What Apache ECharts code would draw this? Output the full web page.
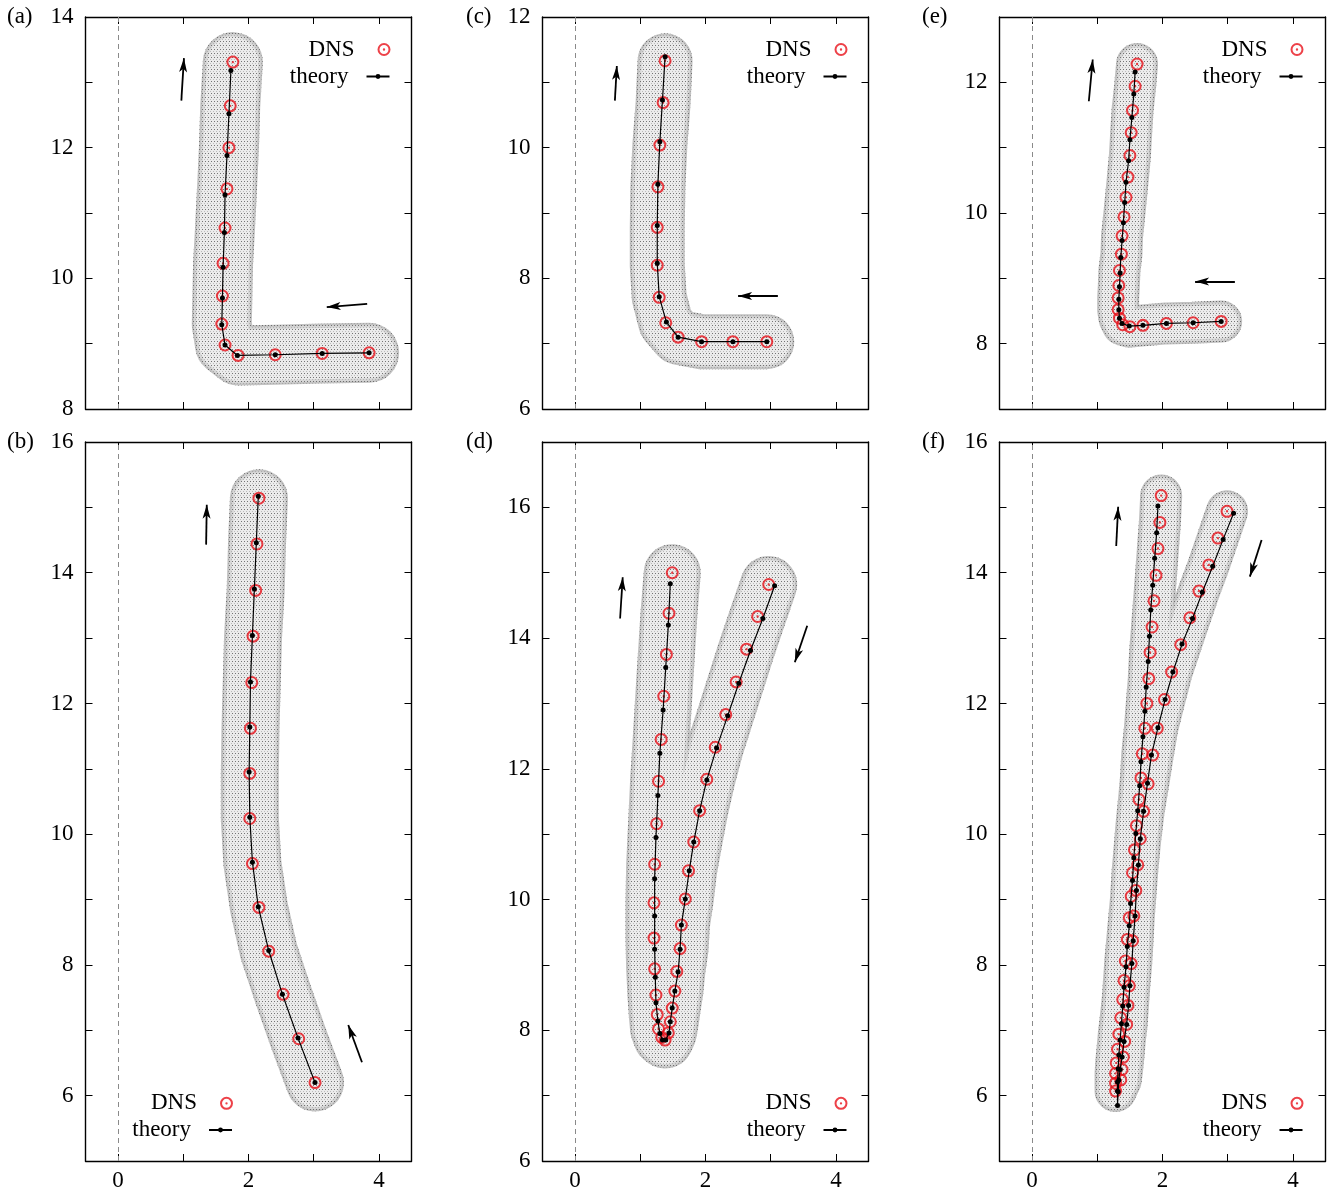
<!DOCTYPE html>
<html><head><meta charset="utf-8">
<script src="https://cdn.jsdelivr.net/npm/echarts@6/dist/echarts.min.js"></script>
<style>html,body{margin:0;padding:0;background:#fff}#c{width:1337px;height:1197px}</style>
</head><body><div id="c"></div>
<script>
// ---------------- data ----------------
const panelLetters = ['(a)','(b)','(c)','(d)','(e)','(f)'];
const xTicks = [0,1,2,3,4];
const xLabels = [0,2,4];
const yTicksA = [8,9,10,11,12,13,14], yLabelsA = [8,10,12,14];
const yTicksB = [5,6,7,8,9,10,11,12,13,14,15,16], yLabelsB = [6,8,10,12,14,16];
const yTicksC = [6,7,8,9,10,11,12], yLabelsC = [6,8,10,12];
const yTicksD = [6,7,8,9,10,11,12,13,14,15,16,17], yLabelsD = [6,8,10,12,14,16];
const yTicksE = [7,8,9,10,11,12,13], yLabelsE = [8,10,12];
const yTicksF = [5,6,7,8,9,10,11,12,13,14,15,16], yLabelsF = [6,8,10,12,14,16];

const dnsA = [[3.85,8.86],[3.13,8.85],[2.41,8.83],[1.84,8.82],[1.64,8.98],[1.59,9.30],[1.60,9.73],[1.61,10.23],[1.64,10.77],[1.67,11.37],[1.70,12.00],[1.72,12.64],[1.76,13.31]];
const theoryA = [[3.85,8.86],[3.13,8.85],[2.41,8.83],[1.83,8.82],[1.64,8.98],[1.59,9.29],[1.60,9.70],[1.61,10.17],[1.63,10.70],[1.64,11.28],[1.67,11.88],[1.70,12.52],[1.73,13.18]];
const arrowsA = [[[0.97,12.72],[1.01,13.37]],[[3.82,9.61],[3.20,9.56]]];

const dnsB = [[3.02,6.20],[2.77,6.87],[2.53,7.55],[2.31,8.21],[2.16,8.88],[2.06,9.55],[2.02,10.24],[2.02,10.93],[2.03,11.62],[2.05,12.32],[2.07,13.03],[2.11,13.73],[2.13,14.44],[2.16,15.14]];
const theoryB = [[3.02,6.20],[2.76,6.88],[2.52,7.55],[2.31,8.22],[2.15,8.89],[2.06,9.57],[2.02,10.26],[2.01,10.95],[2.02,11.64],[2.03,12.33],[2.06,13.04],[2.09,13.75],[2.12,14.46],[2.15,15.17]];
const arrowsB = [[[1.35,14.43],[1.36,15.04]],[[3.74,6.51],[3.53,7.08]]];

const dnsC = [[2.94,7.03],[2.42,7.03],[1.94,7.03],[1.58,7.10],[1.39,7.32],[1.29,7.71],[1.26,8.20],[1.26,8.78],[1.27,9.40],[1.30,10.04],[1.35,10.69],[1.38,11.33]];
const theoryC = [[2.94,7.03],[2.42,7.03],[1.94,7.03],[1.58,7.10],[1.40,7.33],[1.29,7.72],[1.26,8.23],[1.26,8.81],[1.27,9.44],[1.30,10.09],[1.34,10.73],[1.38,11.39]];
const arrowsC = [[[0.61,10.72],[0.64,11.25]],[[3.11,7.73],[2.50,7.73]]];

const dnsD = [[2.97,14.82],[2.80,14.33],[2.63,13.83],[2.47,13.33],[2.31,12.83],[2.15,12.33],[2.02,11.84],[1.91,11.36],[1.82,10.88],[1.74,10.44],[1.69,10.01],[1.63,9.61],[1.61,9.25],[1.56,8.90],[1.53,8.60],[1.49,8.34],[1.46,8.13],[1.43,7.96],[1.38,7.85],
  [1.33,7.89],[1.28,8.02],[1.26,8.24],[1.24,8.54],[1.22,8.94],[1.21,9.41],[1.21,9.95],[1.22,10.54],[1.25,11.16],[1.28,11.81],[1.32,12.45],[1.36,13.11],[1.40,13.75],[1.44,14.38],[1.49,15.00]];
const theoryD = [[3.06,14.80],[2.88,14.30],[2.69,13.81],[2.51,13.31],[2.34,12.81],[2.17,12.32],[2.02,11.83],[1.91,11.36],[1.82,10.88],[1.75,10.44],[1.69,10.01],[1.63,9.61],[1.61,9.24],[1.58,8.89],[1.53,8.60],[1.49,8.34],[1.46,8.13],[1.44,7.96],[1.39,7.85],
  [1.34,7.85],[1.30,7.95],[1.27,8.14],[1.24,8.42],[1.23,8.81],[1.22,9.24],[1.22,9.75],[1.22,10.32],[1.24,10.95],[1.27,11.59],[1.30,12.24],[1.35,12.90],[1.39,13.55],[1.43,14.20],[1.46,14.83]];
const arrowsD = [[[0.69,14.30],[0.73,14.93]],[[3.56,14.19],[3.37,13.63]]];

const dnsE = [[2.90,8.34],[2.47,8.32],[2.06,8.31],[1.70,8.28],[1.50,8.26],[1.39,8.29],[1.34,8.39],[1.32,8.52],[1.32,8.70],[1.33,8.89],[1.34,9.12],[1.37,9.37],[1.38,9.65],[1.41,9.94],[1.44,10.24],[1.47,10.55],[1.50,10.88],[1.52,11.23],[1.54,11.57],[1.58,11.94],[1.61,12.28]];
const theoryE = [[2.90,8.34],[2.47,8.32],[2.06,8.31],[1.70,8.28],[1.49,8.27],[1.38,8.31],[1.34,8.39],[1.33,8.52],[1.33,8.68],[1.34,8.87],[1.35,9.08],[1.36,9.32],[1.38,9.58],[1.40,9.85],[1.42,10.16],[1.44,10.47],[1.48,10.80],[1.50,11.12],[1.53,11.46],[1.56,11.82],[1.58,12.16]];
const arrowsE = [[[0.87,11.71],[0.93,12.35]],[[3.11,8.95],[2.50,8.95]]];

const dnsF = [[2.99,14.94],[2.85,14.53],[2.71,14.12],[2.56,13.72],[2.42,13.31],[2.28,12.90],[2.14,12.48],[2.03,12.06],[1.92,11.62],[1.85,11.21],[1.78,10.77],[1.71,10.35],[1.66,9.93],[1.62,9.53],[1.59,9.14],[1.56,8.75],[1.54,8.37],[1.52,8.02],[1.49,7.68],[1.47,7.38],[1.45,7.09],[1.42,6.83],[1.40,6.59],[1.38,6.40],[1.36,6.24],
  [1.28,6.07],[1.28,6.19],[1.28,6.34],[1.29,6.50],[1.31,6.71],[1.33,6.94],[1.36,7.19],[1.39,7.47],[1.41,7.76],[1.43,8.06],[1.46,8.39],[1.49,8.72],[1.52,9.05],[1.54,9.41],[1.57,9.76],[1.60,10.13],[1.64,10.53],[1.67,10.86],[1.69,11.23],[1.73,11.62],[1.76,12.00],[1.79,12.38],[1.81,12.78],[1.84,13.17],[1.87,13.57],[1.90,13.96],[1.93,14.37],[1.96,14.77],[1.98,15.18]];
const theoryF = [[3.09,14.91],[2.93,14.51],[2.77,14.10],[2.61,13.70],[2.46,13.30],[2.30,12.91],[2.16,12.48],[2.04,12.06],[1.93,11.63],[1.83,11.21],[1.77,10.78],[1.71,10.35],[1.66,9.93],[1.63,9.53],[1.60,9.14],[1.58,8.75],[1.55,8.37],[1.53,8.02],[1.50,7.68],[1.48,7.38],[1.45,7.09],[1.41,6.83],[1.38,6.59],[1.35,6.40],[1.33,6.24],[1.32,6.06],[1.31,5.85],
  [1.31,6.07],[1.31,6.21],[1.32,6.41],[1.33,6.62],[1.35,6.85],[1.37,7.10],[1.39,7.37],[1.41,7.66],[1.44,7.97],[1.46,8.28],[1.49,8.60],[1.51,8.94],[1.54,9.29],[1.56,9.64],[1.59,10.01],[1.62,10.36],[1.65,10.74],[1.67,11.11],[1.70,11.49],[1.73,11.88],[1.75,12.25],[1.78,12.64],[1.80,13.03],[1.82,13.43],[1.85,13.81],[1.88,14.22],[1.91,14.61],[1.93,15.02]];
const arrowsF = [[[1.29,14.41],[1.32,15.01]],[[3.52,14.50],[3.34,13.94]]];

// ---------------- styles / layout ----------------
const FONT = '"Liberation Serif","Times New Roman",serif';
const RED = '#e8121a';
const DNS_SYMBOL = 'path://M10,0A10,10 0 1,1 10,20A10,10 0 1,1 10,0ZM10,3.1A6.9,6.9 0 1,0 10,16.9A6.9,6.9 0 1,0 10,3.1ZM10,8.2A1.8,1.8 0 1,1 10,11.8A1.8,1.8 0 1,1 10,8.2Z';

const panels = [
  {dns:dnsA, th:theoryA, arr:arrowsA, yMin:8, yMax:14, yt:yTicksA, yl:yLabelsA, left:85.5, top:17, h:392, bottomRow:false, tube:60, legRight:946.5, legY:[49.5,76.5], lx:7, ly:17},
  {dns:dnsB, th:theoryB, arr:arrowsB, yMin:5, yMax:16, yt:yTicksB, yl:yLabelsB, left:85.5, top:442, h:719, bottomRow:true, tube:58, legRight:1104, legY:[1103.3,1130], lx:7, ly:442},
  {dns:dnsC, th:theoryC, arr:arrowsC, yMin:6, yMax:12, yt:yTicksC, yl:yLabelsC, left:542.5, top:17, h:392, bottomRow:false, tube:55, legRight:489.5, legY:[49.5,76.5], lx:466, ly:17},
  {dns:dnsD, th:theoryD, arr:arrowsD, yMin:6, yMax:17, yt:yTicksD, yl:yLabelsD, left:542.5, top:442, h:719, bottomRow:true, tube:57, legRight:489.5, legY:[1103.3,1130], lx:466, ly:442},
  {dns:dnsE, th:theoryE, arr:arrowsE, yMin:7, yMax:13, yt:yTicksE, yl:yLabelsE, left:999.5, top:17, h:392, bottomRow:false, tube:42, legRight:33.5, legY:[49.5,76.5], lx:922, ly:17},
  {dns:dnsF, th:theoryF, arr:arrowsF, yMin:5, yMax:16, yt:yTicksF, yl:yLabelsF, left:999.5, top:442, h:719, bottomRow:true, tube:42, legRight:33.5, legY:[1103.3,1130], lx:922, ly:442}
];

function makeDots() {
  const c = document.createElement('canvas');
  c.width = 3; c.height = 4;
  const g = c.getContext('2d');
  g.fillStyle = 'rgba(95,95,95,0.85)';
  g.fillRect(1, 1, 1, 1);
  g.fillStyle = 'rgba(140,140,140,0.5)';
  g.fillRect(0, 3, 1, 1);
  return c;
}
const dotPattern = { image: makeDots(), repeat: 'repeat' };

const grid = [], xAxis = [], yAxis = [], series = [], legend = [], graphic = [];
const axisLineStyle = { color: '#000', width: 1.4 };
const tickStyle = { color: '#000', width: 1 };
const labelStyle = { color: '#000', fontSize: 23, fontFamily: FONT };

panels.forEach((p, i) => {
  grid.push({ left: p.left, top: p.top, width: 326, height: p.h, containLabel: false });
  xAxis[i] = { type: 'value', gridIndex: i, position: 'bottom', min: -0.5, max: 4.5,
    axisLine: { show: true, onZero: false, lineStyle: axisLineStyle },
    axisTick: { show: true, inside: true, length: 7, customValues: xTicks, lineStyle: tickStyle },
    axisLabel: Object.assign({ show: p.bottomRow, customValues: xLabels, margin: 8 }, labelStyle),
    splitLine: { show: false } };
  xAxis[6 + i] = { type: 'value', gridIndex: i, position: 'top', min: -0.5, max: 4.5,
    axisLine: { show: true, onZero: false, lineStyle: axisLineStyle },
    axisTick: { show: true, inside: true, length: 7, customValues: xTicks, lineStyle: tickStyle },
    axisLabel: { show: false }, splitLine: { show: false } };
  yAxis[i] = { type: 'value', gridIndex: i, position: 'left', min: p.yMin, max: p.yMax,
    axisLine: { show: true, onZero: false, lineStyle: axisLineStyle },
    axisTick: { show: true, inside: true, length: 7, customValues: p.yt, lineStyle: tickStyle },
    axisLabel: Object.assign({ show: true, customValues: p.yl, margin: 12 }, labelStyle),
    splitLine: { show: false } };
  yAxis[6 + i] = { type: 'value', gridIndex: i, position: 'right', min: p.yMin, max: p.yMax,
    axisLine: { show: true, onZero: false, lineStyle: axisLineStyle },
    axisTick: { show: true, inside: true, length: 7, customValues: p.yt, lineStyle: tickStyle },
    axisLabel: { show: false }, splitLine: { show: false } };

  const common = { xAxisIndex: i, yAxisIndex: i, silent: true, emphasis: { disabled: true } };
  // tube: soft darker rim, light interior, dotted texture
  series.push(Object.assign({ type: 'line', name: 'tube', data: p.dns, showSymbol: false, symbol: 'none', z: 1,
    lineStyle: { width: p.tube, color: '#c2c2c2', cap: 'round', join: 'round' },
    markLine: { silent: true, symbol: 'none', label: { show: false }, emphasis: { disabled: true },
      lineStyle: { type: [5, 4], color: '#8a8a8a', width: 1 }, data: [{ xAxis: 0 }] } }, common));
  series.push(Object.assign({ type: 'line', name: 'tube', data: p.dns, showSymbol: false, symbol: 'none', z: 1,
    lineStyle: { width: p.tube - 4, color: '#d6d6d6', cap: 'round', join: 'round' } }, common));
  series.push(Object.assign({ type: 'line', name: 'tube', data: p.dns, showSymbol: false, symbol: 'none', z: 1,
    lineStyle: { width: p.tube - 9, color: '#ebebeb', cap: 'round', join: 'round' } }, common));
  series.push(Object.assign({ type: 'line', name: 'tube', data: p.dns, showSymbol: false, symbol: 'none', z: 1,
    lineStyle: { width: p.tube, color: dotPattern, cap: 'round', join: 'round' } }, common));
  // arrows
  series.push(Object.assign({ type: 'lines', name: 'arrow', coordinateSystem: 'cartesian2d', z: 3,
    symbol: ['none', 'arrow'], symbolSize: [0, [6, 14]],
    lineStyle: { color: '#000', width: 1.8, opacity: 1 },
    data: p.arr.map(a => ({ coords: a })) }, common));
  // DNS
  series.push(Object.assign({ type: 'scatter', name: 'DNS', data: p.dns, symbol: DNS_SYMBOL, symbolSize: 13, z: 4,
    itemStyle: { color: RED, borderWidth: 0 } }, common));
  // theory
  series.push(Object.assign({ type: 'line', name: 'theory', data: p.th, symbol: 'circle', symbolSize: 5, showSymbol: true, z: 5,
    itemStyle: { color: '#000', borderWidth: 0 }, lineStyle: { color: '#000', width: 1.2 } }, common));

  const legCommon = { right: p.legRight, itemWidth: 23, align: 'right', padding: 0, selectedMode: false,
    orient: 'vertical', itemStyle: { borderWidth: 0 },
    textStyle: { fontSize: 23, fontFamily: FONT, color: '#000', padding: [0, 13, 0, 0] } };
  legend.push(Object.assign({ data: ['DNS'], top: p.legY[0] - 11.5, itemHeight: 13 }, legCommon));
  legend.push(Object.assign({ data: ['theory'], top: p.legY[1] - 11.5, itemHeight: 6 }, legCommon));

  graphic.push({ type: 'text', x: p.lx, y: p.ly,
    style: { text: panelLetters[i], fill: '#000', font: '23px ' + FONT, verticalAlign: 'middle', textVerticalAlign: 'middle' } });
});

const chart = echarts.init(document.getElementById('c'), null, { renderer: 'canvas' });
chart.setOption({
  backgroundColor: '#fff',
  animation: false,
  grid, xAxis, yAxis, series, legend, graphic
});
</script></body></html>
